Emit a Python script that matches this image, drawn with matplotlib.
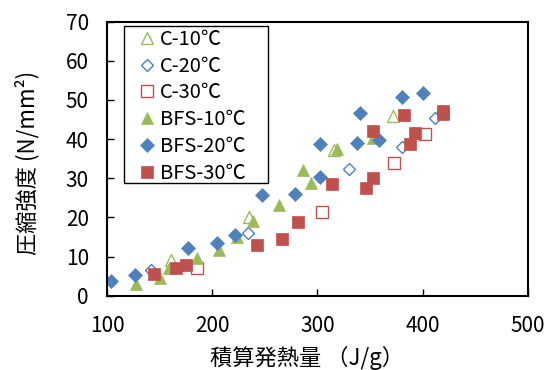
import matplotlib
matplotlib.use("Agg")
import matplotlib.pyplot as plt
from matplotlib.patches import Rectangle

plt.rcParams['font.family'] = ['Noto Sans CJK JP', 'DejaVu Sans']

# 積算発熱量 (J/g) と 圧縮強度 (N/mm2)
c10_x = [161, 234.5, 316, 372]
c10_y = [9.0, 20.2, 37.2, 46.0]
c20_x = [142, 233.6, 329.5, 380, 412]
c20_y = [6.6, 15.9, 32.4, 38.1, 45.4]
c30_x = [186, 304, 373, 402]
c30_y = [7.1, 21.5, 34.0, 41.3]
bfs10_x = [128, 150, 158.5, 186, 206, 223.4, 239.2, 263.6, 286.7, 294, 318.5, 353]
bfs10_y = [3.1, 4.6, 7.0, 9.6, 11.8, 15.1, 19.1, 23.2, 32.1, 28.7, 37.6, 40.3]
bfs20_x = [104, 126.5, 176.8, 204.1, 221.9, 247.2, 278.8, 302.3, 302, 337.6, 340.2, 358.5, 380.7, 400.3]
bfs20_y = [3.8, 5.2, 12.1, 13.4, 15.5, 25.7, 26.1, 30.4, 38.8, 39.1, 46.6, 39.8, 50.7, 51.9]
bfs30_x = [144.5, 166, 175.5, 242.4, 266.4, 281.3, 313.6, 345.9, 353.2, 352.6, 382.4, 388.2, 392.4, 419, 419.5]
bfs30_y = [5.5, 7.2, 7.8, 12.9, 14.5, 18.9, 28.5, 27.4, 30.0, 42.0, 46.1, 38.8, 41.6, 47.2, 46.3]

green = '#9BBB59'
blue = '#4F81BD'
red = '#C0504D'

W, H = 557, 370
fig = plt.figure(figsize=(W / 100, H / 100), dpi=100)
ax = fig.add_axes([0.192, 0.2008, 0.756, 0.7406])

ax.plot(c10_x, c10_y, ls='none', marker='^', ms=8, mfc='white', mec=green, mew=1.0, label='C-10℃')
ax.plot(c20_x, c20_y, ls='none', marker='D', ms=6.6, mfc='white', mec=blue, mew=1.0, label='C-20℃')
ax.plot(c30_x, c30_y, ls='none', marker='s', ms=8, mfc='white', mec=red, mew=1.0, label='C-30℃')
ax.plot(bfs10_x, bfs10_y, ls='none', marker='^', ms=9, mfc=green, mec=green, mew=0.5, label='BFS-10℃')
ax.plot(bfs20_x, bfs20_y, ls='none', marker='D', ms=6.8, mfc=blue, mec=blue, mew=0.5, label='BFS-20℃')
ax.plot(bfs30_x, bfs30_y, ls='none', marker='s', ms=9, mfc=red, mec=red, mew=0.5, label='BFS-30℃')

ax.set_xlim(100, 500)
ax.set_ylim(0, 70)
ax.set_xticks([100, 200, 300, 400, 500])
ax.set_yticks(range(0, 71, 10))
ax.tick_params(axis='both', direction='in', length=5, width=1, labelsize=15)
ax.tick_params(axis='y', pad=13)
ax.tick_params(axis='x', pad=14)
for s in ax.spines.values():
    s.set_linewidth(1.5)

# 軸ラベル
fig.text(307 / W, 1 - 358 / H, '積算発熱量 （J/g）', fontsize=16, ha='center', va='center')
fig.text(27 / W, 1 - 163 / H, '圧縮強度 (N/mm²)', fontsize=16, ha='center', va='center',
         rotation=90)

# 凡例（枠は別に描く）
leg = ax.legend(loc='upper left', bbox_to_anchor=(133 / W, 1 - 22.7 / H),
                bbox_transform=fig.transFigure, borderaxespad=0, fontsize=14.5,
                handlelength=0.8, handletextpad=0.25, labelspacing=0.29,
                borderpad=0.3, frameon=False)
leg.set_zorder(5)
ax.add_patch(Rectangle((124 / W, 1 - 183 / H), 144 / W, 157 / H,
                       transform=fig.transFigure, facecolor='white',
                       edgecolor='black', linewidth=1.0, zorder=4, clip_on=False))

fig.savefig('out.png', dpi=100)
